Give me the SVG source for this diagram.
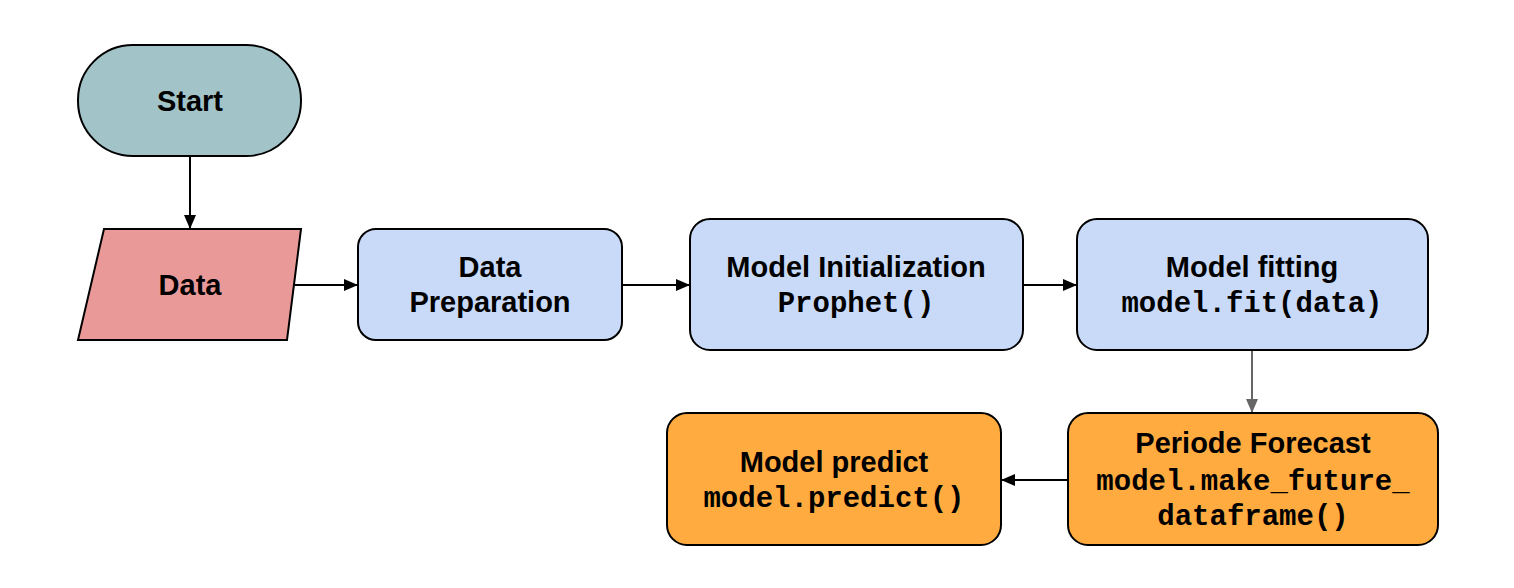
<svg xmlns="http://www.w3.org/2000/svg" width="1514" height="588" viewBox="0 0 1514 588">
<style>
.shape{stroke:#000;stroke-width:2}
.t{font-family:"Liberation Sans",Arial,sans-serif;font-weight:bold;font-size:29px;text-anchor:middle;fill:#000}
.m{font-family:"Liberation Mono","Courier New",monospace;font-weight:bold;font-size:29px;text-anchor:middle;fill:#000}
.c{stroke:#000;stroke-width:2;fill:none}
</style>
<defs>
<marker id="ah" markerWidth="14" markerHeight="12" refX="14" refY="6" orient="auto" markerUnits="userSpaceOnUse"><path d="M0,0 L14,6 L0,12 Z" fill="#000"/></marker>
<marker id="ahg" markerWidth="14" markerHeight="12" refX="14" refY="6" orient="auto" markerUnits="userSpaceOnUse"><path d="M0,0 L14,6 L0,12 Z" fill="#666"/></marker>
</defs>
<rect width="1514" height="588" fill="#fff"/>
<g id="connectors">
<line class="c" x1="190" y1="156" x2="190" y2="229" marker-end="url(#ah)"/>
<line class="c" x1="294" y1="285" x2="358" y2="285" marker-end="url(#ah)"/>
<line class="c" x1="622" y1="285" x2="690" y2="285" marker-end="url(#ah)"/>
<line class="c" x1="1023" y1="285" x2="1077" y2="285" marker-end="url(#ah)"/>
<line x1="1252" y1="350" x2="1252" y2="413" stroke="#666" stroke-width="2" marker-end="url(#ahg)"/>
<line class="c" x1="1068" y1="480" x2="1001" y2="480" marker-end="url(#ah)"/>
</g>
<g id="start">
<rect class="shape" x="78" y="45" width="223" height="111" rx="55" ry="55" fill="#a2c4c9"/>
<text class="t" x="190" y="111">Start</text>
</g>
<g id="data">
<polygon class="shape" points="104,229 301,229 287,340 78,340" fill="#ea9999"/>
<text class="t" x="190" y="295">Data</text>
</g>
<g id="prep">
<rect class="shape" x="358" y="229" width="264" height="111" rx="18" ry="18" fill="#c9daf8"/>
<text class="t" x="490" y="277">Data</text>
<text class="t" x="490" y="312">Preparation</text>
</g>
<g id="init">
<rect class="shape" x="690" y="219" width="333" height="131" rx="20" ry="20" fill="#c9daf8"/>
<text class="t" x="856" y="277">Model Initialization</text>
<text class="m" x="856" y="312">Prophet()</text>
</g>
<g id="fit">
<rect class="shape" x="1077" y="219" width="351" height="131" rx="20" ry="20" fill="#c9daf8"/>
<text class="t" x="1252" y="277">Model fitting</text>
<text class="m" x="1252" y="312">model.fit(data)</text>
</g>
<g id="forecast">
<rect class="shape" x="1068" y="413" width="370" height="132" rx="20" ry="20" fill="#ffab40"/>
<text class="t" x="1253" y="453">Periode Forecast</text>
<text class="m" x="1253" y="490">model.make_future_</text>
<text class="m" x="1253" y="525">dataframe()</text>
</g>
<g id="predict">
<rect class="shape" x="667" y="413" width="334" height="132" rx="20" ry="20" fill="#ffab40"/>
<text class="t" x="834" y="472">Model predict</text>
<text class="m" x="834" y="507">model.predict()</text>
</g>
</svg>
